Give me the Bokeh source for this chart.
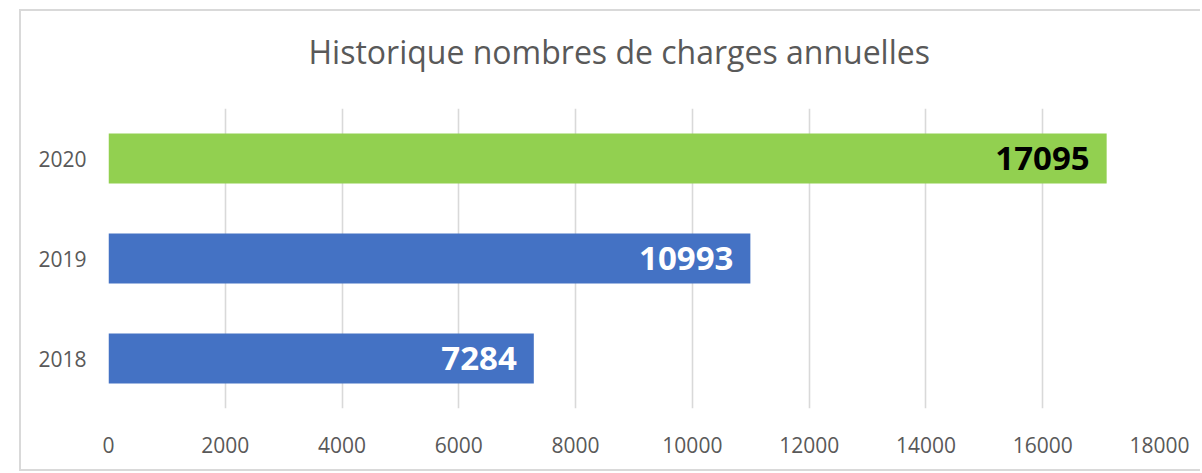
from bokeh.plotting import figure
from bokeh.models import ColumnDataSource, FactorRange, Range1d, FixedTicker, Title
from bokeh.core.properties import value
from bokeh.embed import file_html
from bokeh.resources import INLINE

# ---- data ----
years = ["2018", "2019", "2020"]
charges = [7284, 10993, 17095]
x_ticks = [0, 2000, 4000, 6000, 8000, 10000, 12000, 14000, 16000, 18000]
title_text = "Historique nombres de charges annuelles"

# ---- styles ----
BLUE = "#4472C4"
GREEN = "#92D050"
GRAY_TEXT = "#595959"
GRID = "#D9D9D9"
FONT = "Open Sans"

bar_colors = [BLUE, BLUE, GREEN]
label_colors = ["white", "white", "black"]

src = ColumnDataSource(dict(
    year=years, val=charges, label=[str(v) for v in charges],
    color=bar_colors, lcolor=label_colors,
))

p = figure(
    width=1181, height=462,
    y_range=FactorRange(*years, range_padding=0),
    x_range=Range1d(0, 18000),
    output_backend="svg", toolbar_location=None,
    min_border_left=87, min_border_right=43,
    min_border_top=97, min_border_bottom=65,
)
p.margin = (9, 0, 0, 19)
p.styles = {
    "border-left": "2px solid #D9D9D9",
    "border-top": "2px solid #D9D9D9",
    "border-bottom": "2px solid #D9D9D9",
}

# real title (outermost panel)
p.title.text = title_text
p.title.align = "left"
p.title.offset = 200
p.title.standoff = 0
p.title.vertical_align = "bottom"
p.title.text_font = FONT
p.title.text_font_size = "32px"
p.title.text_font_style = "normal"
p.title.text_color = GRAY_TEXT

# spacer between title and plot frame
spacer = Title(text=" ", text_font_size="1px", standoff=33)
p.add_layout(spacer, "above")

p.hbar(y="year", right="val", left=0, height=0.5, color="color",
       line_color=None, source=src)
p.text(x="val", y="year", text="label", text_align="right",
       text_baseline="middle", x_offset=-17,
       text_font=value(FONT), text_font_size="33px", text_font_style="bold",
       text_color="lcolor", source=src)

p.outline_line_color = None
p.ygrid.grid_line_color = None
p.xgrid.grid_line_color = GRID
p.xgrid.grid_line_width = 1.6
p.xaxis.ticker = FixedTicker(ticks=x_ticks)

for ax in (p.xaxis[0], p.yaxis[0]):
    ax.axis_line_color = None
    ax.major_tick_line_color = None
    ax.minor_tick_line_color = None
    ax.major_tick_out = 0
    ax.major_tick_in = 0
    ax.major_label_text_font = FONT
    ax.major_label_text_color = GRAY_TEXT

p.yaxis.major_label_text_font_size = "21px"
p.yaxis.major_label_standoff = 22
p.xaxis.major_label_text_font_size = "21px"
p.xaxis.major_label_standoff = 28

open("out.html", "w").write(file_html(p, INLINE))
